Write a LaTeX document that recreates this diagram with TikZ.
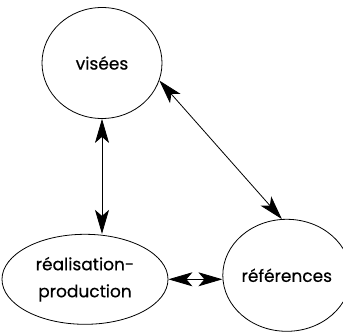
\documentclass[tikz,border=0pt]{standalone}
\usepackage{fontspec}
\setmainfont{Poppins}[UprightFeatures={FakeBold=0.5}]
\usetikzlibrary{positioning}
\usetikzlibrary{shapes.geometric}
\usetikzlibrary{arrows.meta}

\begin{document}
\begin{tikzpicture}[x=1pt, y=-1pt,
    pole/.style={draw, ellipse, inner sep=0pt, line width=0.8pt,
        font=\fontsize{17}{27}\selectfont, align=center},
    link/.style={line width=0.8pt, {Stealth[length=24pt, width=14pt, inset=6pt]}-{Stealth[length=24pt, width=14pt, inset=6pt]}}]
    \useasboundingbox (0,0) rectangle (343,332);

    \node [pole, minimum width=120pt, minimum height=111pt] (visees) at (102,63) {visées};
    \node [pole, minimum width=166pt, minimum height=90pt, below=115pt of visees, xshift=-17pt] (realisation) {réalisation-\\production};
    \node [pole, minimum width=118pt, minimum height=112pt, right=54pt of realisation, yshift=4pt] (references) {références};

    \draw [link] (visees.south) -- (visees.south |- realisation.north);
    \draw [link] (visees.-17) -- (references.95);
    \draw [link] (realisation.east) -- (realisation.east -| references.west);

\end{tikzpicture}
\end{document}
